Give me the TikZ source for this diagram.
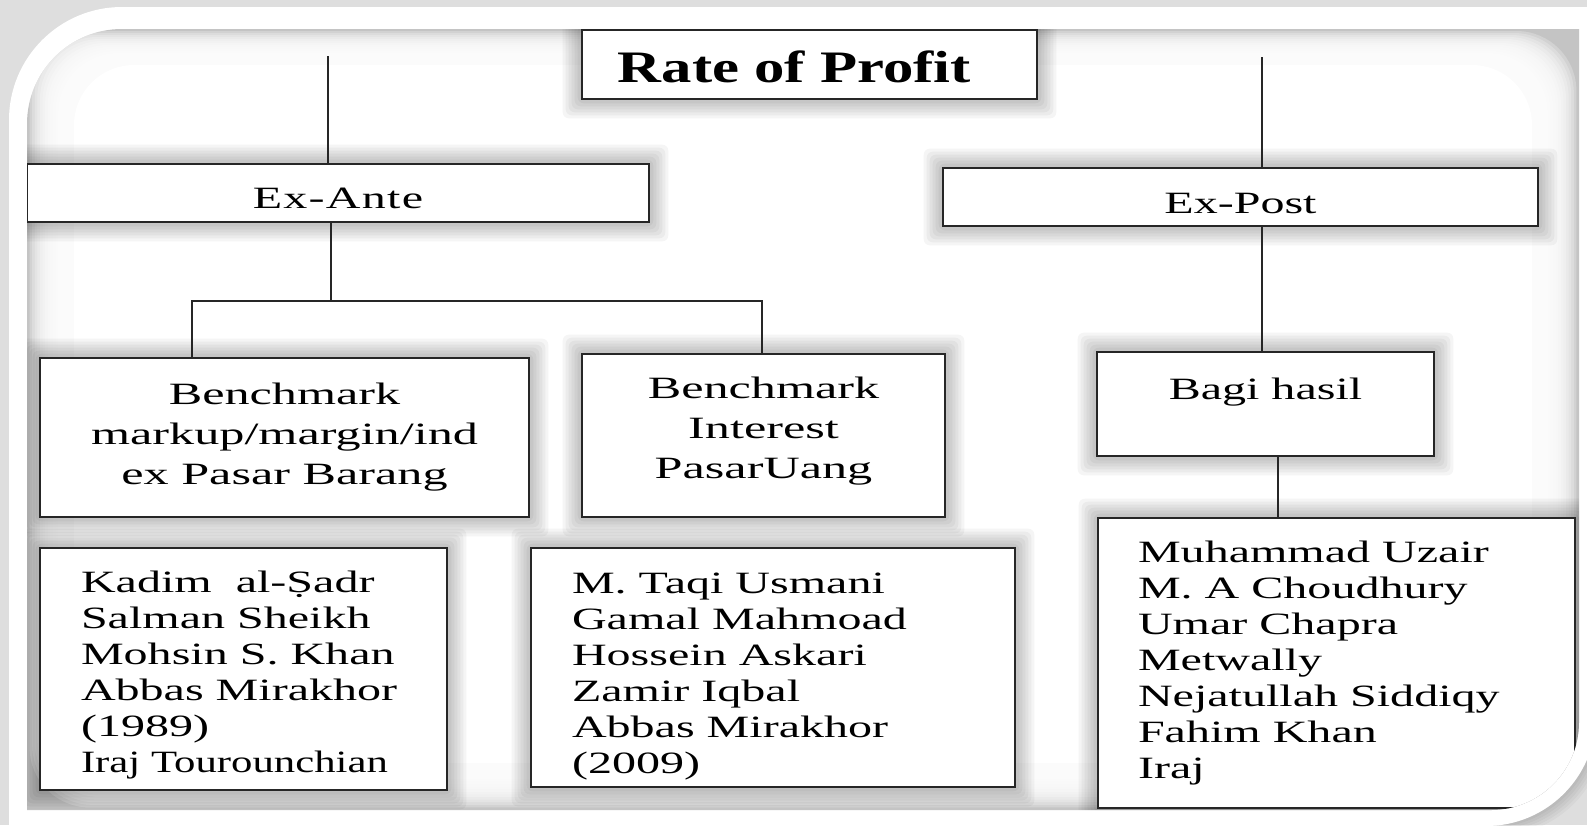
\documentclass[tikz,border=0pt]{standalone}
\usepackage{graphicx}
\usepackage{fontspec}
\setmainfont{Liberation Serif}
\newfontfamily\boxfont[FakeStretch=1.55]{Liberation Serif}
\newfontfamily\benchfont[FakeStretch=1.62]{Liberation Serif}
\newfontfamily\exfont[FakeStretch=1.55,LetterSpace=4]{Liberation Serif}
\newfontfamily\titlefont[FakeStretch=1.35]{Liberation Serif}
\usetikzlibrary{calc}

\pgfdeclarelayer{frame}
\pgfdeclarelayer{shade}
\pgfsetlayers{frame,shade,main}

\definecolor{pagegray}{HTML}{DEDEDE}
\definecolor{edgegray}{HTML}{C4C4C4}
\definecolor{ink}{HTML}{262626}

% text helpers: left-aligned list, centred stack, single line
\newcommand\stackleft[3]{\makebox[#1pt][l]{\raisebox{#2pt}[0pt][0pt]{\boxfont\fontsize{31}{36}\selectfont\begin{tabular}[t]{@{}l@{}}#3\end{tabular}}}}
\newcommand\stackmid[2]{\raisebox{#1pt}[0pt][0pt]{\benchfont\fontsize{31}{40}\selectfont\begin{tabular}[t]{@{}c@{}}#2\end{tabular}}}
\newcommand\oneline[2]{\raisebox{#1pt}[0pt][0pt]{#2}}

\tikzset{
  box/.style={draw=ink, line width=2.6pt, fill=white, rectangle, inner sep=0pt, anchor=center, text=black},
  link/.style={draw=ink, line width=2.4pt},
  inner outline/.style={insert path={(27,-810) -- (27,-124) arc[start angle=180,end angle=90,radius=95pt] -- (1579,-29) -- (1579,-722) arc[start angle=0,end angle=-90,radius=88pt] -- cycle}},
  outer outline/.style={insert path={(9,-830) -- (9,-120) arc[start angle=180,end angle=90,radius=113pt] -- (1596,-7) -- (1596,-716) arc[start angle=0,end angle=-90,radius=110pt] -- (9,-826) -- cycle}},
}

\begin{document}
\begin{tikzpicture}[x=1pt,y=1pt]
\useasboundingbox (0,0) rectangle (1587,-825);

% page, white mount and soft inner edge
\begin{pgfonlayer}{frame}
  \fill[pagegray] (0,0) rectangle (1587,-825);
  \foreach \k in {1,...,5}{
    \begin{scope}[shift={(2*\k,-2*\k)}]
      \fill[black, fill opacity=0.03][outer outline];
    \end{scope}
  }
  \fill[white][outer outline];
  \begin{scope}
    \clip[inner outline];
    \fill[edgegray] (0,0) rectangle (1587,-825);
    \foreach \k in {1,...,18}{
      \fill[white, fill opacity=0.24, rounded corners=60pt]
        ({27+2.6*\k},{-29-2*\k}) rectangle ({1579-2.6*\k},{-810+2.6*\k});
    }
    \fill[white, rounded corners=60pt] (74,-65) rectangle (1532,-763);
  \end{scope}
\end{pgfonlayer}

\begin{scope}
  \clip[inner outline];

  % boxes
  \node[box, minimum width=455pt, minimum height=69pt] (rate) at (809.5,-64.5)
    {\hspace*{-30pt}\oneline{-17.5}{\titlefont\bfseries\fontsize{45}{50}\selectfont Rate of Profit}};
  \node[box, minimum width=622pt, minimum height=58pt] (exante) at (338,-193)
    {\oneline{-15}{\exfont\fontsize{31}{36}\selectfont Ex-Ante}};
  \node[box, minimum width=595pt, minimum height=58pt] (expost) at (1240.5,-197)
    {\oneline{-16}{\boxfont\fontsize{31}{36}\selectfont Ex-Post}};
  \node[box, minimum width=489pt, minimum height=159pt] (bench1) at (284.5,-437.5)
    {\stackmid{33.5}{Benchmark\\markup/margin/ind\\ex Pasar Barang}};
  \node[box, minimum width=363pt, minimum height=163pt] (bench2) at (763.5,-435.5)
    {\stackmid{37.5}{Benchmark\\Interest\\PasarUang}};
  \node[box, minimum width=337pt, minimum height=104pt] (bagi) at (1265.5,-404)
    {\oneline{5}{\boxfont\fontsize{31}{36}\selectfont Bagi hasil}};
  \node[box, minimum width=407pt, minimum height=242pt] (list1) at (243.5,-669)
    {\stackleft{325}{77}{Kadim\ \ al-\d{S}adr\\Salman Sheikh\\Mohsin S. Khan\\Abbas Mirakhor\\(1989)\\\scalebox{0.89}[1]{Iraj Tourounchian}}};
  \node[box, minimum width=484pt, minimum height=239pt] (list2) at (773,-667.5)
    {\stackleft{402}{74.5}{M. Taqi Usmani\\Gamal Mahmoad\\Hossein Askari\\Zamir Iqbal\\Abbas Mirakhor\\(2009)}};
  \node[box, minimum width=477pt, minimum height=290pt] (list3) at (1336.5,-663)
    {\stackleft{397}{101}{Muhammad Uzair\\M. A Choudhury\\Umar Chapra\\Metwally\\Nejatullah Siddiqy\\Fahim Khan\\Iraj}};

  % connectors
  \coordinate (eaTop) at (328,-56);
  \coordinate (eaJoin) at (331,-301);
  \coordinate (barL) at (192,-301);
  \coordinate (barR) at (762,-301);
  \coordinate (epTop) at (1262,-57);
  \coordinate (bhDrop) at (1278,-480);

  \draw[link] (eaTop) -- (eaTop |- exante.north);
  \draw[link] (exante.south -| eaJoin) -- (eaJoin);
  \draw[link] (bench1.north -| barL) |- (barR) -- (bench2.north -| barR);
  \draw[link] (epTop) -- (epTop |- expost.north);
  \draw[link] (expost.south -| epTop) -- (bagi.north -| epTop);
  \draw[link] (bagi.south -| bhDrop) -- (list3.north -| bhDrop);
\end{scope}

% soft shadows round the boxes
\begin{pgfonlayer}{shade}
  \begin{scope}
    \clip[inner outline];
    \foreach \n in {rate,exante,expost,bench1,bench2,bagi,list1,list2,list3}{
      \foreach \k in {1,...,6}{
        \fill[black, fill opacity=0.04, rounded corners=6pt]
          ([shift={(-3pt*\k,3pt*\k)}]\n.north west) rectangle ([shift={(3pt*\k,-3pt*\k)}]\n.south east);
      }
    }
  \end{scope}
\end{pgfonlayer}
\end{tikzpicture}
\end{document}
